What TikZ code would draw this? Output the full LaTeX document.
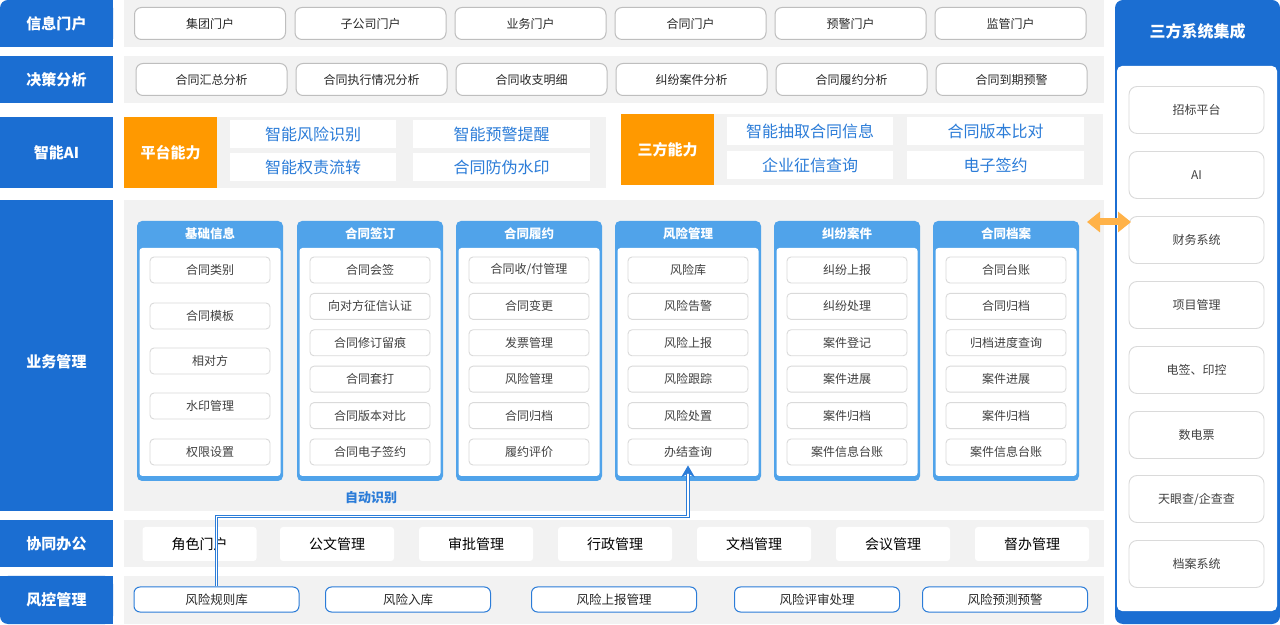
\documentclass[tikz,border=0pt]{standalone}
\usepackage{fontspec}
\setmainfont{Noto Sans CJK SC}
\usetikzlibrary{arrows.meta}

\begin{document}
\begin{tikzpicture}[x=1pt,y=1pt,
  tag/.style={fill=tagColor,text=white,font=\fontsize{15}{18}\selectfont\bfseries,minimum width=113pt,inner sep=0pt},
  portal/.style={draw=edgeColor,line width=1pt,fill=white,rounded corners=7pt,minimum width=151pt,minimum height=32pt,inner sep=0pt,text=textColor,font=\fontsize{12}{14}\selectfont},
  power/.style={fill=orangeColor,text=white,font=\fontsize{15}{18}\selectfont\bfseries,minimum width=93pt,minimum height=71pt,inner sep=0pt},
  aibox/.style={fill=white,text=aiColor,font=\fontsize{16}{19}\selectfont,minimum height=28pt,inner sep=0pt},
  colhead/.style={text=white,font=\fontsize{12.5}{15}\selectfont\bfseries,inner sep=0pt},
  item/.style={draw=itemEdge,line width=0.9pt,fill=white,rounded corners=4pt,minimum width=120pt,minimum height=26pt,inner sep=0pt,text=itemText,font=\fontsize{12}{14}\selectfont},
  office/.style={fill=white,rounded corners=3pt,minimum width=114pt,minimum height=34pt,inner sep=0pt,text=black,font=\fontsize{14}{16}\selectfont},
  risk/.style={draw=aiColor,line width=1pt,fill=white,rounded corners=6pt,minimum width=165pt,minimum height=25pt,inner sep=0pt,text=textColor,font=\fontsize{12.5}{15}\selectfont},
  sysitem/.style={draw=itemEdge,line width=0.9pt,fill=white,rounded corners=8pt,minimum width=135pt,minimum height=47pt,inner sep=0pt,text=itemText,font=\fontsize{12}{14}\selectfont},
  link/.style={draw=aiColor,double=white,double distance=1.3pt,line width=1.2pt},
  linktip/.style={draw=none,fill=aiColor}]
\definecolor{tagColor}{RGB}{27,110,210}
\definecolor{headColor}{RGB}{80,163,234}
\definecolor{orangeColor}{RGB}{255,153,0}
\definecolor{arrowColor}{RGB}{255,178,72}
\definecolor{aiColor}{RGB}{43,124,216}
\definecolor{bandColor}{RGB}{242,242,242}
\definecolor{edgeColor}{RGB}{190,190,190}
\definecolor{itemEdge}{RGB}{218,218,218}
\definecolor{textColor}{RGB}{40,40,40}
\definecolor{itemText}{RGB}{64,64,64}
\path[use as bounding box,fill=white] (0,0) rectangle (1280,624);

\path[fill=bandColor] (124,577) rectangle (1104,624);
\path[fill=bandColor] (124,521) rectangle (1104,568);
\path[fill=bandColor] (217,436) rectangle (606,507);
\path[fill=bandColor] (714,439) rectangle (1103,510);
\path[fill=bandColor] (124,113) rectangle (1104,424);
\path[fill=bandColor] (124,57) rectangle (1104,104);
\path[fill=bandColor] (124,0) rectangle (1104,48);

\path[fill=tagColor] (20,577) rectangle (113,624);
\path[fill=tagColor] (0,577) rectangle (113,604);
\node[tag,rounded corners=8pt,minimum height=47pt] (info) at (56.5,600.5) {信息门户};
\node[tag,minimum height=47pt] (deci) at (56.5,544.5) {决策分析};
\node[tag,minimum height=71pt] (smart) at (56.5,471.5) {智能AI};
\path[fill=tagColor] (0,113) rectangle (113,424);
\node[tag,fill=none] (biz) at (56.5,262) {业务管理};
\node[tag,minimum height=47pt] (coop) at (56.5,80.5) {协同办公};
\path[fill=tagColor] (20,0) rectangle (113,48);
\path[fill=tagColor] (0,20) rectangle (113,48);
\node[tag,rounded corners=8pt,minimum height=48pt] (ctrl) at (56.5,24) {风控管理};

\node[portal] (p1) at (210,600.5) {集团门户};
\node[portal] (p2) at (370.5,600.5) {子公司门户};
\node[portal] (p3) at (530.5,600.5) {业务门户};
\node[portal] (p4) at (690.5,600.5) {合同门户};
\node[portal] (p5) at (850.5,600.5) {预警门户};
\node[portal] (p6) at (1010.5,600.5) {监管门户};

\node[portal] (d1) at (211.5,544.5) {合同汇总分析};
\node[portal] (d2) at (371.5,544.5) {合同执行情况分析};
\node[portal] (d3) at (531.5,544.5) {合同收支明细};
\node[portal] (d4) at (691.5,544.5) {纠纷案件分析};
\node[portal] (d5) at (851.5,544.5) {合同履约分析};
\node[portal] (d6) at (1011.5,544.5) {合同到期预警};

\node[power] (pf) at (170.5,471.5) {平台能力};
\node[aibox,minimum width=166pt] (a1) at (313,490) {智能风险识别};
\node[aibox,minimum width=166pt] (a2) at (313,456.5) {智能权责流转};
\node[aibox,minimum width=177pt] (a3) at (501.5,490) {智能预警提醒};
\node[aibox,minimum width=177pt] (a4) at (501.5,456.5) {合同防伪水印};

\node[power] (sf) at (667.5,474.5) {三方能力};
\node[aibox,minimum width=166pt] (s1) at (810,493) {智能抽取合同信息};
\node[aibox,minimum width=166pt] (s2) at (810,458.5) {企业征信查询};
\node[aibox,minimum width=177pt] (s3) at (995.5,493) {合同版本比对};
\node[aibox,minimum width=177pt] (s4) at (995.5,458.5) {电子签约};

\path[fill=headColor,rounded corners=5pt] (137,143) rectangle (283,403);
\path[fill=white,rounded corners=3pt] (139.5,148) rectangle (280.5,376);
\node[colhead] (jc) at (210,390) {基础信息};
\node[item] (jc1) at (210,354) {合同类别};
\node[item] (jc2) at (210,308) {合同模板};
\node[item] (jc3) at (210,263) {相对方};
\node[item] (jc4) at (210,218) {水印管理};
\node[item] (jc5) at (210,172) {权限设置};

\path[fill=headColor,rounded corners=5pt] (297,143) rectangle (443,403);
\path[fill=white,rounded corners=3pt] (299.5,148) rectangle (440.5,376);
\node[colhead] (qd) at (370,390) {合同签订};
\node[item] (qd1) at (370,354) {合同会签};
\node[item] (qd2) at (370,317.6) {向对方征信认证};
\node[item] (qd3) at (370,281.2) {合同修订留痕};
\node[item] (qd4) at (370,244.8) {合同套打};
\node[item] (qd5) at (370,208.4) {合同版本对比};
\node[item] (qd6) at (370,172) {合同电子签约};

\path[fill=headColor,rounded corners=5pt] (456,143) rectangle (602,403);
\path[fill=white,rounded corners=3pt] (458.5,148) rectangle (599.5,376);
\node[colhead] (ly) at (529,390) {合同履约};
\node[item] (ly1) at (529,354) {合同收/付管理};
\node[item] (ly2) at (529,317.6) {合同变更};
\node[item] (ly3) at (529,281.2) {发票管理};
\node[item] (ly4) at (529,244.8) {风险管理};
\node[item] (ly5) at (529,208.4) {合同归档};
\node[item] (ly6) at (529,172) {履约评价};

\path[fill=headColor,rounded corners=5pt] (615,143) rectangle (761,403);
\path[fill=white,rounded corners=3pt] (617.5,148) rectangle (758.5,376);
\node[colhead] (fx) at (688,390) {风险管理};
\node[item] (fx1) at (688,354) {风险库};
\node[item] (fx2) at (688,317.6) {风险告警};
\node[item] (fx3) at (688,281.2) {风险上报};
\node[item] (fx4) at (688,244.8) {风险跟踪};
\node[item] (fx5) at (688,208.4) {风险处置};
\node[item] (fx6) at (688,172) {办结查询};

\path[fill=headColor,rounded corners=5pt] (774,143) rectangle (920,403);
\path[fill=white,rounded corners=3pt] (776.5,148) rectangle (917.5,376);
\node[colhead] (jf) at (847,390) {纠纷案件};
\node[item] (jf1) at (847,354) {纠纷上报};
\node[item] (jf2) at (847,317.6) {纠纷处理};
\node[item] (jf3) at (847,281.2) {案件登记};
\node[item] (jf4) at (847,244.8) {案件进展};
\node[item] (jf5) at (847,208.4) {案件归档};
\node[item] (jf6) at (847,172) {案件信息台账};

\path[fill=headColor,rounded corners=5pt] (933,143) rectangle (1079,403);
\path[fill=white,rounded corners=3pt] (935.5,148) rectangle (1076.5,376);
\node[colhead] (da) at (1006,390) {合同档案};
\node[item] (da1) at (1006,354) {合同台账};
\node[item] (da2) at (1006,317.6) {合同归档};
\node[item] (da3) at (1006,281.2) {归档进度查询};
\node[item] (da4) at (1006,244.8) {案件进展};
\node[item] (da5) at (1006,208.4) {案件归档};
\node[item] (da6) at (1006,172) {案件信息台账};

\node[text=aiColor,font=\fontsize{13}{15}\selectfont\bfseries,inner sep=0pt] (auto) at (371,126) {自动识别};

\node[office] (xt1) at (199.5,80) {角色门户};
\node[office] (xt2) at (337,80) {公文管理};
\node[office] (xt3) at (476,80) {审批管理};
\node[office] (xt4) at (615,80) {行政管理};
\node[office] (xt5) at (754,80) {文档管理};
\node[office] (xt6) at (893,80) {会议管理};
\node[office] (xt7) at (1032,80) {督办管理};

\node[risk] (fk1) at (216.5,24.5) {风险规则库};
\node[risk] (fk2) at (408,24.5) {风险入库};
\node[risk] (fk3) at (614,24.5) {风险上报管理};
\node[risk] (fk4) at (817,24.5) {风险评审处理};
\node[risk] (fk5) at (1005,24.5) {风险预测预警};

\draw[link] (fk1.north) -- ++(0,70) -| ([yshift=-9pt]fx6.south);
\path[linktip] (fx6.south) -- ++(-7,-12) -- ++(7,4) -- ++(7,-4) -- cycle;

\path[fill=tagColor,rounded corners=8pt] (1115,0) rectangle (1280,624);
\path[fill=white,rounded corners=5pt] (1117,13) rectangle (1277,558);
\node[text=white,font=\fontsize{16}{19}\selectfont\bfseries,inner sep=0pt] (sys) at (1197.5,593) {三方系统集成};
\node[sysitem] (j1) at (1196.5,514) {招标平台};
\node[sysitem] (j2) at (1196.5,449) {AI};
\node[sysitem] (j3) at (1196.5,384) {财务系统};
\node[sysitem] (j4) at (1196.5,319) {项目管理};
\node[sysitem] (j5) at (1196.5,254) {电签、印控};
\node[sysitem] (j6) at (1196.5,189) {数电票};
\node[sysitem] (j7) at (1196.5,125) {天眼查/企查查};
\node[sysitem] (j8) at (1196.5,60) {档案系统};

\coordinate (arrL) at (1087,402);
\coordinate (arrR) at (1131,402);
\draw[arrowColor,line width=7pt,{Triangle[length=13pt,width=20pt]}-{Triangle[length=13pt,width=20pt]}] (arrL) -- (arrR);
\end{tikzpicture}
\end{document}
